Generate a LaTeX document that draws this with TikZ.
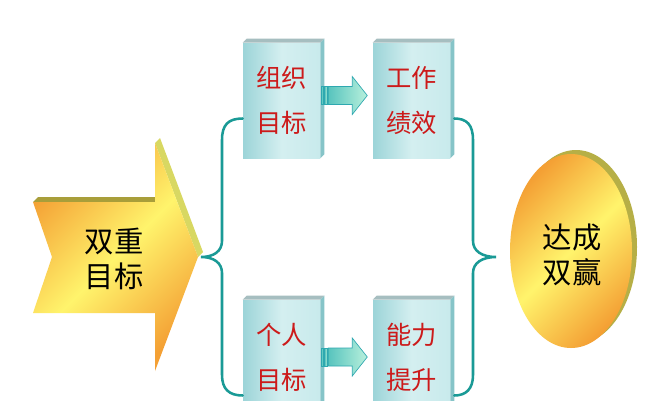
\documentclass[tikz,border=0pt]{standalone}
\usepackage{fontspec}
\newfontfamily\cjk{Noto Sans CJK SC}
\usetikzlibrary{calc}
\definecolor{braceC}{HTML}{1A9A96}
\definecolor{redT}{HTML}{CC1A1A}
\definecolor{orangeC}{HTML}{F4A034}
\definecolor{yellowC}{HTML}{FFF46C}
\definecolor{olive}{HTML}{A89E3A}
\definecolor{sideY}{HTML}{D8D862}
\definecolor{boxL}{HTML}{9CD4D8}
\definecolor{boxM}{HTML}{D4EFF0}
\definecolor{boxR}{HTML}{C8EAEC}
\definecolor{boxTop}{HTML}{A6BEC0}
\definecolor{boxSide}{HTML}{86C4C8}
\definecolor{arrG}{HTML}{B8F0DC}
\definecolor{arrL}{HTML}{58C4BE}
\definecolor{arrT}{HTML}{2EA8B0}
\tikzset{
  goldfill/.style={left color=orangeC, right color=orangeC, middle color=yellowC, shading angle=45},
  cbox/.style={minimum width=57.75pt, minimum height=86.25pt, inner sep=0pt,
    left color=boxL, right color=boxR, middle color=boxM,
    text=redT, align=center, font=\cjk\fontsize{19}{33.75}\selectfont},
  brace/.style={draw=braceC, line width=1.9pt, line cap=round},
  smallarrow/.style={draw=arrT, line width=0.5pt, left color=arrL, right color=arrG},
  bigtext/.style={align=center, font=\cjk\fontsize{22}{26.5}\selectfont, text=black}
}
\begin{document}
\begin{tikzpicture}[x=0.75pt,y=-0.75pt]
\clip (0,0) rectangle (667,400);
\fill[white] (0,0) rectangle (667,400);

% big yellow arrow (3D faces then front)
\fill[olive] (33,202) -- (38,197) -- (160,197) -- (155,202) -- cycle;
\fill[sideY] (155,143) -- (160,138) -- (203,252) -- (198,257) -- cycle;
\shade[goldfill] (33,202) -- (155,202) -- (155,143) -- (198,257) -- (155,371) -- (155,313) -- (33,313) -- (52,257) -- cycle;
\node[bigtext] (goal) at (114,259) {双重\\目标};

% boxes
\node[cbox] (b1) at (281.5,100.5) {组织\\目标};
\node[cbox] (b2) at (411.5,100.5) {工作\\绩效};
\node[cbox] (b3) at (281.5,357.5) {个人\\目标};
\node[cbox] (b4) at (411.5,357.5) {能力\\提升};
\foreach \b in {b1,b2,b3,b4}{
  \fill[boxTop] (\b.north west) -- ++(4,-4) -- ($(\b.north east)+(4,-4)$) -- (\b.north east) -- cycle;
  \fill[boxSide] (\b.north east) -- ++(4,-4) -- ($(\b.south east)+(4,-4)$) -- (\b.south east) -- cycle;
}

% small arrows between boxes
\foreach \a/\y in {b1/-5,b3/-0.5}{
  \begin{scope}[shift={(\a.east)}]
    \draw[smallarrow] (1.5,\y-9) rectangle (3.5,\y+9);
    \draw[smallarrow] (4.5,\y-9) rectangle (7,\y+9);
    \draw[smallarrow] (8,\y-9) -- (32,\y-9) -- (32,\y-19) -- (47,\y) -- (32,\y+19) -- (32,\y+9) -- (8,\y+9) -- cycle;
  \end{scope}
}

% braces
\coordinate (lt) at ($(b1.west)+(0,18)$);
\coordinate (lb) at ($(b3.west)+(0,38)$);
\coordinate (rt) at ($(b2.east)+(4,18)$);
\coordinate (rb) at ($(b4.east)+(4,38)$);
\draw[brace] (lt) .. controls (228,118.5) and (222,125) .. (222,140) -- (222,241)
  .. controls (222,251) and (214,257) .. (201,257)
  .. controls (214,257) and (222,263) .. (222,273) -- (222,375)
  .. controls (222,389) and (229,395.5) .. (lb);
\draw[brace] (rt) .. controls (467,118.5) and (473,125) .. (473,140) -- (473,241)
  .. controls (473,251) and (482,257) .. (496,257)
  .. controls (482,257) and (473,263) .. (473,273) -- (473,375)
  .. controls (473,389) and (466,395.5) .. (rb);

% ellipse
\fill[olive!70!sideY] (576,247) ellipse [x radius=61, y radius=97];
\shade[goldfill] (571,251) ellipse [x radius=61, y radius=97];
\node[bigtext] (win) at (572,255) {达成\\双赢};
\end{tikzpicture}
\end{document}
